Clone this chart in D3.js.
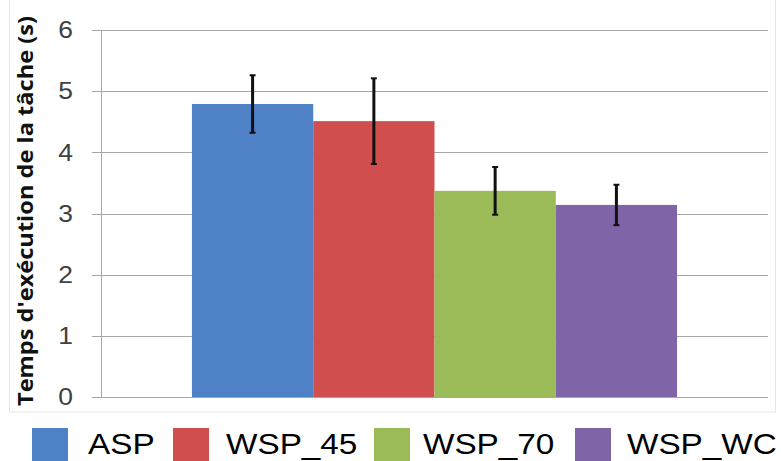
<!DOCTYPE html>
<html>
<head>
<meta charset="utf-8">
<script src="https://cdn.jsdelivr.net/npm/d3@7"></script>
<style>
  html, body { margin: 0; padding: 0; background: #ffffff; }
  svg { display: block; }
</style>
</head>
<body>
<svg id="chart" width="781" height="461"></svg>
<script>
const categories = ["ASP", "WSP_45", "WSP_70", "WSP_WC"];
const values = [4.79, 4.51, 3.37, 3.14];
const errors = [0.47, 0.70, 0.39, 0.33];
const yTicks = [0, 1, 2, 3, 4, 5, 6];
const colors = ["#4f81c7", "#d04f4e", "#9bbb59", "#8064a8"];
const yTitle = "Temps d'exécution de la tâche (s)";

const svg = d3.select("#chart");
const plot = { left: 101, right: 768, top: 30, bottom: 397 };

// faint chart border
svg.append("rect")
  .attr("x", 9.5).attr("y", -1).attr("width", 766).attr("height", 413)
  .attr("fill", "none").attr("stroke", "#e6e6e6").attr("stroke-width", 1);

const y = d3.scaleLinear().domain([0, 6]).range([plot.bottom, plot.top]);
const x = d3.scaleBand().domain(categories)
  .range([plot.left, plot.right]).paddingInner(0).paddingOuter(0.75);

// gridlines
svg.append("g").selectAll("line").data(yTicks).join("line")
  .attr("x1", 92).attr("x2", plot.right)
  .attr("y1", d => Math.round(y(d)) + 0.5).attr("y2", d => Math.round(y(d)) + 0.5)
  .attr("stroke", "#a6a6a6").attr("stroke-width", 1);

// y axis line
svg.append("line")
  .attr("x1", plot.left + 0.5).attr("x2", plot.left + 0.5)
  .attr("y1", y(6)).attr("y2", y(0))
  .attr("stroke", "#a6a6a6").attr("stroke-width", 1);

// tick labels
svg.append("g").selectAll("text").data(yTicks).join("text")
  .attr("x", 73).attr("y", d => y(d))
  .attr("dy", "0.36em")
  .attr("text-anchor", "end")
  .attr("font-family", "Liberation Sans, Arial, sans-serif")
  .attr("font-size", 23)
  .attr("fill", "#404040")
  .attr("transform", "translate(73,0) scale(1.15,1) translate(-73,0)")
  .text(d => d);

// bars
svg.append("g").selectAll("rect").data(categories).join("rect")
  .attr("x", d => x(d))
  .attr("width", x.bandwidth())
  .attr("y", (d, i) => y(values[i]))
  .attr("height", (d, i) => y(0) - y(values[i]))
  .attr("fill", (d, i) => colors[i]);

// error bars
const eg = svg.append("g").attr("stroke", "#111").attr("stroke-width", 3);
categories.forEach((c, i) => {
  const cx = x(c) + x.bandwidth() / 2;
  const yt = y(values[i] + errors[i]);
  const yb = y(values[i] - errors[i]);
  eg.append("line").attr("x1", cx).attr("x2", cx).attr("y1", yt).attr("y2", yb);
  eg.append("line").attr("x1", cx - 3).attr("x2", cx + 3).attr("y1", yt).attr("y2", yt).attr("stroke-width", 2);
  eg.append("line").attr("x1", cx - 3).attr("x2", cx + 3).attr("y1", yb).attr("y2", yb).attr("stroke-width", 2);
});

// y title
svg.append("text")
  .attr("transform", "translate(33,211) rotate(-90)")
  .attr("text-anchor", "middle")
  .attr("font-family", "Open Sans, Noto Sans, sans-serif")
  .attr("font-weight", "bold")
  .attr("font-size", 21)
  .attr("fill", "#111")
  .attr("textLength", 390)
  .attr("lengthAdjust", "spacingAndGlyphs")
  .text(yTitle);

// legend
const legendBoxX = [32, 173, 374, 575];
const legendTextX = [88, 226, 423, 627];
const lg = svg.append("g");
categories.forEach((c, i) => {
  lg.append("rect")
    .attr("x", legendBoxX[i]).attr("y", 428)
    .attr("width", 36).attr("height", 36)
    .attr("fill", colors[i]);
  lg.append("text")
    .attr("x", legendTextX[i]).attr("y", 454)
    .attr("font-family", "Liberation Sans, Arial, sans-serif")
    .attr("font-size", 30)
    .attr("fill", "#000")
    .attr("transform", `translate(${legendTextX[i]},0) scale(1.11,1) translate(${-legendTextX[i]},0)`)
    .text(c);
});
</script>
</body>
</html>
